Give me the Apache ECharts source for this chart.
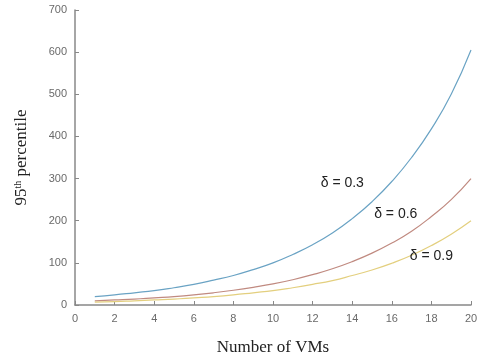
<!DOCTYPE html>
<html>
<head>
<meta charset="utf-8">
<script src="https://cdn.jsdelivr.net/npm/echarts@6/dist/echarts.min.js"></script>
<style>
html,body{margin:0;padding:0;background:#fff;}
#myChart{width:484px;height:362px;}
</style>
</head>
<body>
<div id="myChart"></div>
<script type="text/javascript">
// number of VMs
var vms = [1,2,3,4,5,6,7,8,9,10,11,12,13,14,15,16,17,18,19,20];
// 95th percentile per delta
var delta03 = [20,24,29,34,41,49,59,70,84,100,120,143,171,205,245,293,350,418,500,605];
var delta06 = [10,12,14,17,20,24,29,35,42,50,60,72,86,103,123,147,175,210,250,300];
var delta09 = [7,8,10,12,14,17,20,24,29,34,41,49,58,70,83,99,118,141,168,200];
var xTicks = [0,2,4,6,8,10,12,14,16,18,20];
var yTicks = [0,100,200,300,400,500,600,700];

function pairs(ys)
{
	return vms.map(function(v, i){ return [v, ys[i]]; });
}

function curve(name, ys, color, labelPos)
{
	return {
		name: name,
		type: 'line',
		data: pairs(ys),
		showSymbol: false,
		smooth: true,
		lineStyle: {color: color, width: 1.2},
		markPoint: {
			symbol: 'circle',
			symbolSize: 0,
			label: {
				show: true,
				formatter: name,
				color: '#222',
				fontFamily: 'Liberation Sans',
				fontSize: 14
			},
			data: [{coord: labelPos}]
		}
	};
}

var axisFont = {color: '#6a6a6a', fontFamily: 'Liberation Sans', fontSize: 11};

var option = {
	animation: false,
	grid: {left: 75, right: 13, top: 10, bottom: 57},
	xAxis:
	{
		type: 'value',
		min: xTicks[0],
		max: xTicks[xTicks.length - 1],
		interval: 2,
		name: 'Number of VMs',
		nameLocation: 'middle',
		nameGap: 34,
		nameTextStyle: {color: '#222', fontFamily: 'Liberation Serif', fontSize: 17},
		axisLine: {lineStyle: {color: '#888', width: 1.5}},
		axisTick: {inside: true, length: 4, lineStyle: {color: '#888'}},
		axisLabel: Object.assign({margin: 8}, axisFont),
		splitLine: {show: false}
	},
	yAxis:
	{
		type: 'value',
		min: yTicks[0],
		max: yTicks[yTicks.length - 1],
		interval: 100,
		name: '{a|95}{s|th}{a| percentile}',
		nameLocation: 'middle',
		nameGap: 45,
		nameTextStyle: {
			rich: {
				a: {color: '#222', fontFamily: 'Liberation Serif', fontSize: 17},
				s: {color: '#222', fontFamily: 'Liberation Serif', fontSize: 10, verticalAlign: 'top', padding: [0, 0, 7, 0]}
			}
		},
		axisLine: {show: true, lineStyle: {color: '#888', width: 1.5}},
		axisTick: {show: true, inside: true, length: 4, lineStyle: {color: '#888'}},
		axisLabel: Object.assign({margin: 8}, axisFont),
		splitLine: {show: false}
	},
	series:
	[
		curve('δ = 0.3', delta03, '#6aa3c4', [13.5, 290]),
		curve('δ = 0.6', delta06, '#c08a80', [16.2, 216]),
		curve('δ = 0.9', delta09, '#e3cf7e', [18.0, 116])
	]
};
echarts.init(document.getElementById('myChart')).setOption(option);
</script>
</body>
</html>
